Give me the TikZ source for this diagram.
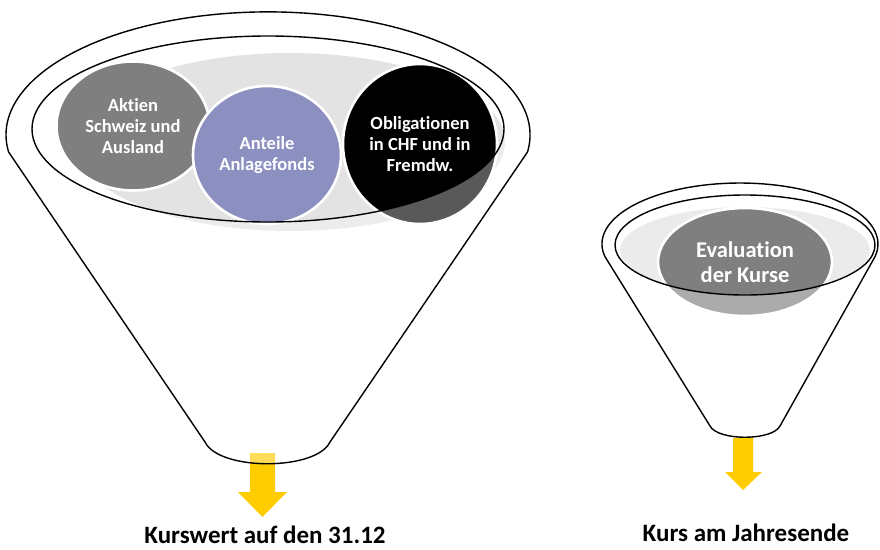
\documentclass[tikz,border=0pt]{standalone}
\usepackage{fontspec}
\setmainfont{Carlito}[Ligatures=NoCommon]
\usetikzlibrary{positioning,calc,shapes.geometric}
\definecolor{stockgray}{HTML}{7F7F7F}
\definecolor{fundblue}{HTML}{8B90C0}
\definecolor{trayback}{HTML}{E3E3E3}
\definecolor{traysmall}{HTML}{EBEBEB}
\definecolor{goldarrow}{HTML}{FFCC00}
\tikzset{bubble/.style={ellipse,draw=white,line width=2.6pt,text=white,align=center,inner sep=0pt,font=\bfseries\fontsize{18.5}{21}\selectfont}  }
\tikzset{rim/.style={draw=black,line width=1.4pt}  }
\tikzset{glass/.style={fill=white,fill opacity=0.35,even odd rule}  }
\tikzset{caption/.style={anchor=base,inner sep=0pt,font=\bfseries\fontsize{25}{28}\selectfont}  }

\begin{document}
\begin{tikzpicture}[x=1pt,y=1pt]
	\useasboundingbox (0,0) rectangle (880,-549);

		\fill[trayback] (290,-142) ellipse [x radius=215, y radius=89];
		\node[bubble,fill=stockgray,minimum width=153pt,minimum height=129pt] (aktien) at (133,-126) {Aktien\\Schweiz und\\Ausland};
		\node[bubble,fill=fundblue,minimum width=148pt,minimum height=138pt] (anteile) at (267,-155) {Anteile\\Anlagefonds};
		\node[bubble,fill=black,minimum width=154pt,minimum height=160pt] (oblig) at (420,-144) {Obligationen\\in CHF und in\\Fremdw.};

		\fill[traysmall] (745,-250) ellipse [x radius=125, y radius=43];
		\node[bubble,fill=stockgray,minimum width=174pt,minimum height=108pt,font=\bfseries\fontsize{22.5}{25}\selectfont] (eval) at (745,-262) {Evaluation\\der Kurse};

		\fill[goldarrow] (250,-453) -- (275,-453) -- (275,-492) -- (287,-492) -- (262.5,-517) -- (238,-492) -- (250,-492) -- cycle;
		\fill[goldarrow] (733,-438) -- (753,-438) -- (753,-472) -- (762,-472) -- (743,-490) -- (725,-472) -- (733,-472) -- cycle;

		\coordinate (bl) at (8.6,-152);
		\coordinate (bbr) at (330,-442);
		\coordinate (bbl) at (205,-442);
		\coordinate (sl) at (605,-256.7);
		\coordinate (sbr) at (780,-426);
		\coordinate (sbl) at (710,-426);

		\fill[glass] (bl) arc [start angle=188, end angle=-8, x radius=262, y radius=123] -- (bbr)
			.. controls (316,-471) and (219,-471) .. (bbl) -- cycle
			(268,-129) ellipse [x radius=236, y radius=93];
		\fill[glass] (sl) arc [start angle=192, end angle=-12, x radius=138, y radius=61] -- (sbr)
			.. controls (772,-441) and (718,-441) .. (sbl) -- cycle
			(745,-245) ellipse [x radius=130, y radius=50];

		\draw[rim] (bl) arc [start angle=188, end angle=-8, x radius=262, y radius=123] -- (bbr)
			.. controls (316,-471) and (219,-471) .. (bbl) -- cycle;
		\draw[rim] (268,-129) ellipse [x radius=236, y radius=93];
		\draw[rim] (sl) arc [start angle=192, end angle=-12, x radius=138, y radius=61] -- (sbr)
			.. controls (772,-441) and (718,-441) .. (sbl) -- cycle;
		\draw[rim] (745,-245) ellipse [x radius=130, y radius=50];

		\node[caption] (kurswert) at (265,-543.5) {Kurswert auf den 31.12};
		\node[caption] (jahresende) at (746,-541) {Kurs am Jahresende};
	\end{tikzpicture}
\end{document}
